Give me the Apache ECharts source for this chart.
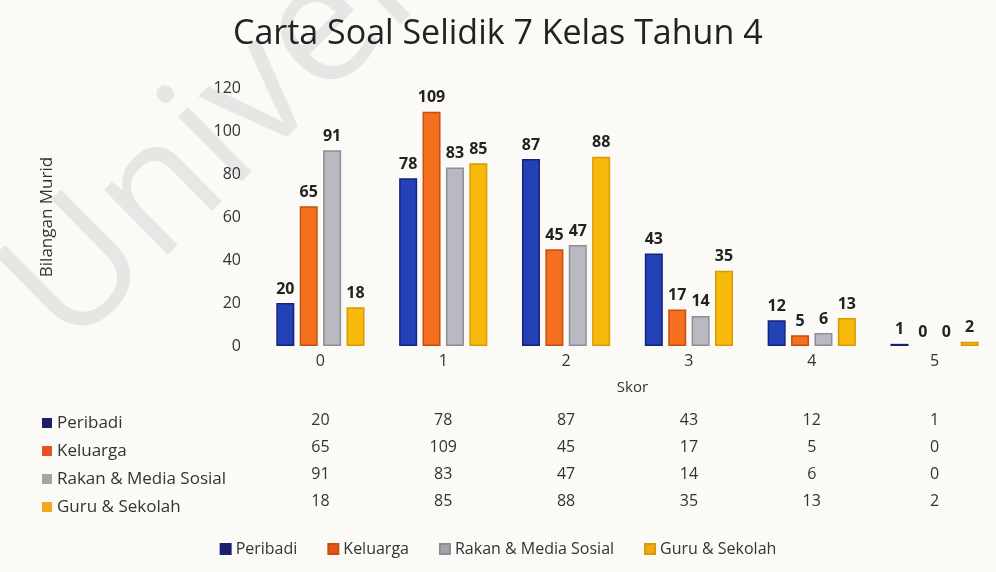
<!DOCTYPE html>
<html>
<head>
<meta charset="utf-8">
<script src="https://cdn.jsdelivr.net/npm/echarts@6/dist/echarts.min.js"></script>
<style>
  html, body { margin: 0; padding: 0; background: #fbfaf6; }
  #chart { width: 996px; height: 572px; }
</style>
</head>
<body>
<div id="chart"></div>
<script>
const skor = ["0", "1", "2", "3", "4", "5"];
const peribadi = [20, 78, 87, 43, 12, 1];
const keluarga = [65, 109, 45, 17, 5, 0];
const rakan = [91, 83, 47, 14, 6, 0];
const guru = [18, 85, 88, 35, 13, 2];
const yTicks = [0, 20, 40, 60, 80, 100, 120];

const seriesNames = ["Peribadi", "Keluarga", "Rakan & Media Sosial", "Guru & Sekolah"];
const seriesData = [peribadi, keluarga, rakan, guru];
const colors = ["#2342b8", "#f46f1e", "#b9b9c2", "#f6b90c"];
const borders = ["#14237a", "#c4500f", "#8e8e98", "#d89a00"];
const keyColors = ["#1c1f66", "#e8521c", "#a3a3a8", "#f2a81c"];

const font = "'Open Sans', 'Noto Sans', sans-serif";
const chart = echarts.init(document.getElementById("chart"));

// data table rows drawn as extra category axes on the same grid
const tableAxes = seriesData.map((vals, i) => ({
  type: "category",
  gridIndex: 0,
  position: "bottom",
  offset: 58 + i * 27,
  data: vals.map(String),
  axisLine: { show: false },
  axisTick: { show: false },
  splitLine: { show: false },
  axisLabel: { color: "#333", fontSize: 16, fontFamily: font, margin: 8 }
}));

const rowKeys = [];
seriesNames.forEach((name, i) => {
  rowKeys.push({
    type: "rect",
    shape: { x: 42, y: 418 + i * 28, width: 10, height: 10 },
    style: { fill: keyColors[i] }
  });
  rowKeys.push({
    type: "text",
    x: 57, y: 423 + i * 28,
    style: {
      text: name, fill: "#333", fontSize: 17, fontFamily: font,
      verticalAlign: "middle"
    }
  });
});

chart.setOption({
  backgroundColor: "#fbfaf6",
  color: colors,
  title: {
    text: "Carta Soal Selidik 7 Kelas Tahun 4",
    left: 228,
    top: 12,
    textStyle: { fontSize: 34, fontWeight: "normal", color: "#222", fontFamily: font }
  },
  graphic: [
    {
      type: "text",
      x: 95, y: 378,
      rotation: 0.78,
      z: -1,
      style: {
        text: "Universiti", fill: "rgba(180,180,186,0.28)", fontSize: 170,
        fontFamily: font, verticalAlign: "bottom"
      }
    }
  ].concat(rowKeys),
  legend: {
    bottom: 10,
    left: "center",
    itemWidth: 10,
    itemHeight: 10,
    itemGap: 30,
    icon: "rect",
    textStyle: { fontSize: 16, color: "#333", fontFamily: font },
    data: seriesNames.map((n, i) => ({ name: n, itemStyle: { color: keyColors[i] } }))
  },
  grid: { left: 259, right: 0, top: 88, bottom: 226 },
  xAxis: [
    {
      type: "category",
      data: skor,
      name: "Skor",
      nameLocation: "middle",
      nameGap: 34,
      nameTextStyle: { fontSize: 15, color: "#333", fontFamily: font, padding: [0, 0, 0, 10] },
      axisLine: { show: false },
      axisTick: { show: false },
      axisLabel: { color: "#333", fontSize: 16, fontFamily: font, margin: 7 }
    }
  ].concat(tableAxes),
  yAxis: {
    type: "value",
    min: 0,
    max: 120,
    interval: 20,
    name: "Bilangan Murid",
    nameLocation: "middle",
    nameRotate: 90,
    nameGap: 203,
    nameTextStyle: { fontSize: 17, color: "#333", fontFamily: font },
    splitLine: { show: false },
    axisLine: { show: false },
    axisTick: { show: false },
    axisLabel: {
      color: "#333", fontSize: 16, fontFamily: font, margin: 18,
      formatter: v => (yTicks.includes(v) ? String(v) : "")
    }
  },
  series: seriesData.map((vals, i) => ({
    name: seriesNames[i],
    type: "bar",
    xAxisIndex: 0,
    data: vals.map(v => ({ value: v, itemStyle: { borderWidth: v === 0 ? 0 : 1.5 } })),
    barWidth: 18,
    barGap: "30%",
    itemStyle: { color: colors[i], borderColor: borders[i], borderWidth: 1.5 },
    label: {
      show: true,
      position: "top",
      distance: 6,
      color: "#222",
      fontSize: 16,
      fontWeight: "bold",
      fontFamily: font
    }
  }))
});
</script>
</body>
</html>
